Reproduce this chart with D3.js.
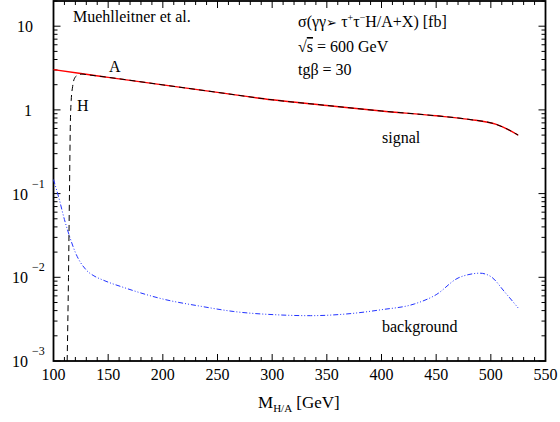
<!DOCTYPE html>
<html>
<head>
<meta charset="utf-8">
<script src="https://cdn.jsdelivr.net/npm/d3@7"></script>
<style>
  body { margin: 0; background: #fff; }
  text { font-family: "Liberation Serif", "Times New Roman", serif; fill: #000; }
</style>
</head>
<body>
<div id="chart"></div>
<script>
// signal, A boson (red solid)
var massA = [100, 125, 150, 200, 250, 300, 350, 400, 450, 480, 505, 515, 525];
var sigmaA = [3.03, 2.72, 2.45, 1.99, 1.62, 1.32, 1.13, 0.97, 0.85, 0.77, 0.67, 0.59, 0.50];

// signal, H boson (black dashed), joins A above ~130 GeV
var massH = [112.5, 113.7, 114.6, 115.4, 116.2, 117.5, 119, 122, 126, 130, 150, 200, 250, 300, 350, 400, 450, 480, 505, 515, 525];
var sigmaH = [0.001, 0.01, 0.1, 0.67, 1.3, 1.9, 2.35, 2.6, 2.68, 2.64, 2.45, 1.99, 1.62, 1.32, 1.13, 0.97, 0.85, 0.77, 0.67, 0.59, 0.50];

// background (blue dash-dot)
var massBg = [100, 105, 110, 115, 120, 130, 137, 145, 165, 200, 235, 265, 305, 335, 365, 400, 430, 450, 470, 480, 490, 500, 513, 525];
var sigmaBg = [0.147, 0.088, 0.049, 0.030, 0.0198, 0.0122, 0.0104, 0.0093, 0.0075, 0.0055, 0.0045, 0.0039, 0.00356, 0.00348, 0.00362, 0.0041, 0.0048, 0.0062, 0.0098, 0.0108, 0.0112, 0.0102, 0.0066, 0.0043];

var xTickLabels = [100, 150, 200, 250, 300, 350, 400, 450, 500, 550];
var yDecades = [1e-3, 1e-2, 1e-1, 1, 10];

var W = 560, H = 422;
var plotL = 53.5, plotR = 545.5, plotT = 1, plotB = 361;

var svg = d3.select("#chart").append("svg")
    .attr("width", W)
    .attr("height", H);

var x = d3.scaleLinear().domain([100, 550]).range([plotL, plotR]);
var y = d3.scaleLog().domain([1e-3, 20]).range([plotB, plotT]);

//ticks on all four sides, pointing inward
var ticks = svg.append("g").attr("stroke", "#000").attr("stroke-width", 1);
d3.range(100, 551, 10).forEach(function(m) {
    var len = (m % 50 === 0) ? 7 : 4;
    ticks.append("line").attr("x1", x(m)).attr("x2", x(m)).attr("y1", plotB).attr("y2", plotB - len);
    ticks.append("line").attr("x1", x(m)).attr("x2", x(m)).attr("y1", plotT).attr("y2", plotT + len);
});
yDecades.forEach(function(d) {
    for (var k = 1; k <= 9; k++) {
        var v = d * k;
        if (v > 20) break;
        var len = (k === 1) ? 7 : 4;
        ticks.append("line").attr("x1", plotL).attr("x2", plotL + len).attr("y1", y(v)).attr("y2", y(v));
        ticks.append("line").attr("x1", plotR).attr("x2", plotR - len).attr("y1", y(v)).attr("y2", y(v));
    }
});

//frame
svg.append("rect")
    .attr("x", plotL).attr("y", plotT)
    .attr("width", plotR - plotL).attr("height", plotB - plotT)
    .attr("fill", "none").attr("stroke", "#000").attr("stroke-width", 1.8);

//x tick labels
svg.append("g").selectAll("text")
    .data(xTickLabels).enter()
    .append("text")
    .attr("x", function(d) { return x(d); })
    .attr("y", 380)
    .attr("text-anchor", "middle")
    .style("font-size", "16px")
    .text(function(d) { return d; });

//y tick labels
var yl = svg.append("g");
yDecades.forEach(function(d) {
    var e = Math.round(Math.log10(d));
    var yy = y(d);
    if (e === 1) {
        yl.append("text").attr("x", 33).attr("y", yy + 6).attr("text-anchor", "end")
            .style("font-size", "16px").text("10");
    } else if (e === 0) {
        yl.append("text").attr("x", 32).attr("y", yy + 6).attr("text-anchor", "end")
            .style("font-size", "16px").text("1");
    } else {
        yl.append("text").attr("x", 28).attr("y", yy + 6).attr("text-anchor", "end")
            .style("font-size", "16px").text("10");
        yl.append("text").attr("x", 32).attr("y", yy - 6)
            .style("font-size", "12px").text("\u2212" + (-e));
    }
});

//x axis title
var xt = svg.append("text").attr("x", 258).attr("y", 408).style("font-size", "17px");
xt.append("tspan").text("M");
xt.append("tspan").attr("dy", 4).style("font-size", "11px").text("H/A");
xt.append("tspan").attr("dy", -4).text(" [GeV]");

//curves
var line = d3.line()
    .x(function(d) { return x(d[0]); })
    .y(function(d) { return y(d[1]); })
    .curve(d3.curveMonotoneX);

svg.append("path")
    .datum(d3.zip(massBg, sigmaBg))
    .attr("d", line)
    .attr("fill", "none")
    .attr("stroke", "#2233ff")
    .attr("stroke-width", 1)
    .attr("stroke-dasharray", "5,2,1,2,1,2");

svg.append("path")
    .datum(d3.zip(massA, sigmaA))
    .attr("d", line)
    .attr("fill", "none")
    .attr("stroke", "#ff0000")
    .attr("stroke-width", 1.4);

svg.append("path")
    .datum(d3.zip(massH, sigmaH))
    .attr("d", line)
    .attr("fill", "none")
    .attr("stroke", "#000")
    .attr("stroke-width", 1)
    .attr("stroke-dasharray", "6,4");

//annotations
svg.append("text").attr("x", 73).attr("y", 22).style("font-size", "16px").text("Muehlleitner et al.");

var t1 = svg.append("text").attr("x", 298).attr("y", 27).style("font-size", "16px");
t1.append("tspan").text("\u03c3(\u03b3\u03b3");
t1.append("tspan").style("font-family", "DejaVu Sans").style("font-size", "13px").text("\u27a2 ");
t1.append("tspan").text("\u03c4");
t1.append("tspan").attr("dy", -6).style("font-size", "10px").text("+");
t1.append("tspan").attr("dy", 6).text("\u03c4");
t1.append("tspan").attr("dy", -6).style("font-size", "10px").text("\u2212");
t1.append("tspan").attr("dy", 6).text("H/A+X) [fb]");

var t2 = svg.append("text").attr("x", 298).attr("y", 52).style("font-size", "16px");
t2.append("tspan").text("\u221a");
t2.append("tspan").style("text-decoration", "overline").text("s");
t2.append("tspan").text(" = 600 GeV");

svg.append("text").attr("x", 298).attr("y", 75).style("font-size", "16px").text("tg\u03b2 = 30");

svg.append("text").attr("x", 109).attr("y", 72).style("font-size", "16px").text("A");
svg.append("text").attr("x", 77).attr("y", 111).style("font-size", "16px").text("H");
svg.append("text").attr("x", 382).attr("y", 143).style("font-size", "16px").text("signal");
svg.append("text").attr("x", 382).attr("y", 332).style("font-size", "16px").text("background");
</script>
</body>
</html>
